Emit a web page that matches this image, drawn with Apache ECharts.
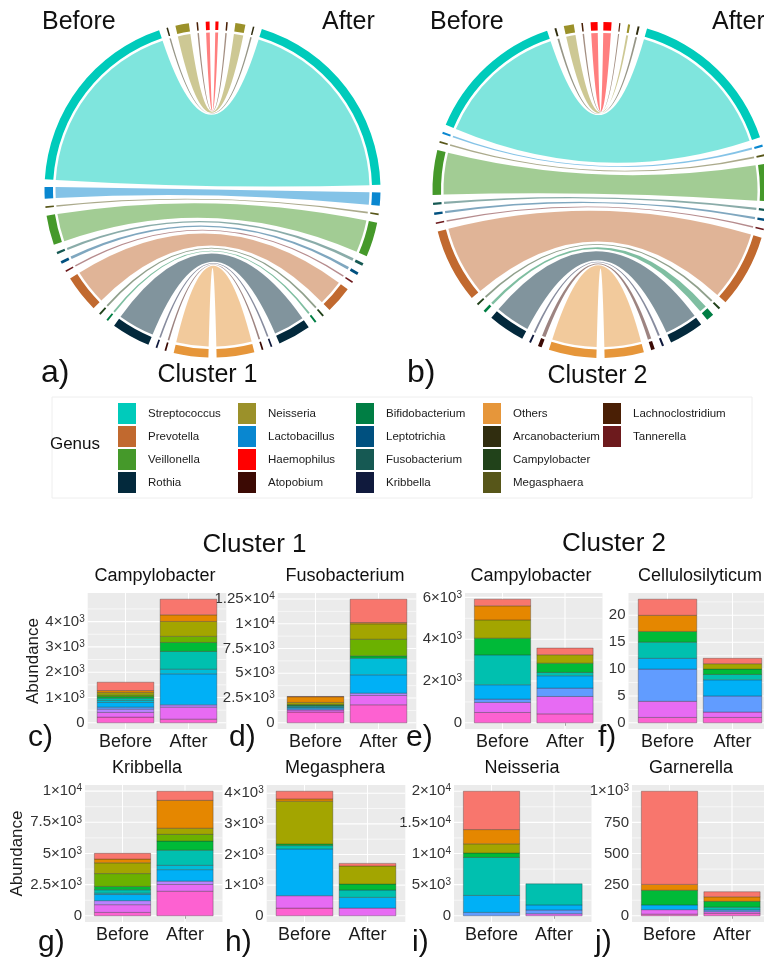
<!DOCTYPE html>
<html>
<head>
<meta charset="utf-8">
<script src="https://cdn.jsdelivr.net/npm/echarts@6/dist/echarts.min.js"></script>
<style>
  html, body { margin: 0; padding: 0; background: #ffffff; }
  #chart { width: 764px; height: 960px; }
</style>
</head>
<body>
<div id="chart"></div>
<script>
// ---------------------------------------------------------------------------
// Chord diagrams: genus order around the circle, clockwise from 12 o'clock on
// the "After" half (the "Before" half mirrors it counter-clockwise).
// ---------------------------------------------------------------------------
const genera = ['Haemophilus', 'Lachnoclostridium', 'Neisseria', 'Arcanobacterium', 'Streptococcus',
  'Lactobacillus', 'Megasphaera', 'Veillonella', 'Fusobacterium', 'Leptotrichia', 'Tannerella',
  'Prevotella', 'Campylobacter', 'Bifidobacterium', 'Rothia', 'Kribbella', 'Atopobium', 'Others'];

// Relative abundance (%) of each genus, same order as `genera`
const cluster1Before = [1.0, 0.4, 3.5, 0.4, 51.1, 3.0, 0.45, 7.7, 0.6, 0.75, 0.4, 9.7, 0.5, 0.5, 10.1, 0.45, 0.45, 9.0];
const cluster1After  = [0.8, 0.4, 2.6, 0.4, 53.6, 3.4, 0.45, 9.0, 0.75, 0.75, 0.4, 7.1, 0.5, 0.5, 8.6, 0.45, 0.45, 9.8];
const cluster2Before = [1.8, 0.4, 2.6, 0.5, 36.5, 0.5, 0.45, 11.6, 0.6, 0.6, 0.4, 19.3, 0.5, 0.7, 9.6, 0.5, 1.0, 12.4];
const cluster2After  = [2.1, 0.3, 0.55, 0.5, 41.8, 0.55, 0.5, 9.7, 0.6, 0.6, 0.4, 19.1, 0.55, 2.0, 9.0, 0.55, 0.95, 10.2];

// Legend entries, one list per legend column
const legendColumns = [
  ['Streptococcus', 'Prevotella', 'Veillonella', 'Rothia'],
  ['Neisseria', 'Lactobacillus', 'Haemophilus', 'Atopobium'],
  ['Bifidobacterium', 'Leptotrichia', 'Fusobacterium', 'Kribbella'],
  ['Others', 'Arcanobacterium', 'Campylobacter', 'Megasphaera'],
  ['Lachnoclostridium', 'Tannerella']
];

const genusColors = {
  Streptococcus: '#00CBBB', Prevotella: '#C1692F', Veillonella: '#45992A', Rothia: '#03293C',
  Neisseria: '#9B912A', Lactobacillus: '#0987D0', Haemophilus: '#FF0000', Atopobium: '#3C0A04',
  Bifidobacterium: '#007E44', Leptotrichia: '#00507F', Fusobacterium: '#165953', Kribbella: '#101A3D',
  Others: '#E6963A', Arcanobacterium: '#302D0F', Campylobacter: '#21421A', Megasphaera: '#575619',
  Lachnoclostridium: '#4A1F05', Tannerella: '#6D1A1D'
};

// ---------------------------------------------------------------------------
// Stacked bars: abundance per fill level (top of the stack first)
// ---------------------------------------------------------------------------
const sides = ['Before', 'After'];
const fillPalette = ['#F8766D', '#E58700', '#C99800', '#A3A500', '#6BB100', '#00BA38', '#00BF7D',
  '#00C0AF', '#00BCD8', '#00B0F6', '#619CFF', '#B983FF', '#E76BF3', '#FD61D1', '#FF67A4'];

const cBefore = [330, 80, 0, 90, 65, 65, 0, 90, 80, 185, 80, 130, 185, 225, 0];
const cAfter  = [620, 260, 0, 590, 240, 355, 0, 700, 185, 1225, 0, 90, 475, 145, 0];
const dBefore = [30, 570, 0, 200, 70, 70, 0, 100, 70, 130, 130, 0, 200, 1090, 0];
const dAfter  = [2360, 130, 0, 1550, 1680, 235, 0, 0, 1680, 1850, 0, 235, 940, 1820, 0];
const eBefore = [320, 670, 0, 875, 0, 800, 0, 1430, 0, 685, 160, 0, 480, 495, 0];
const eAfter  = [320, 0, 0, 400, 0, 445, 0, 160, 0, 590, 400, 0, 830, 430, 0];
const fBefore = [3, 3, 0, 0, 0, 2, 0, 3, 0, 2, 6, 0, 3, 1, 0];
const fAfter  = [1, 0, 0, 1, 0, 1, 0, 1, 0, 3, 3, 0, 1, 1, 0];
const gBefore = [460, 300, 0, 865, 1030, 270, 0, 270, 110, 490, 0, 325, 620, 270, 0];
const gAfter  = [730, 2240, 0, 490, 540, 730, 0, 1215, 350, 920, 0, 270, 540, 1970, 0];
const hBefore = [250, 75, 0, 1395, 0, 55, 0, 110, 0, 1525, 0, 0, 405, 250, 0];
const hAfter  = [85, 0, 0, 590, 0, 195, 0, 240, 0, 350, 0, 0, 250, 0, 0];
const iBefore = [6160, 2290, 0, 1470, 0, 710, 0, 6100, 0, 2725, 545, 0, 0, 0, 0];
const iAfter  = [0, 0, 0, 0, 0, 0, 0, 3380, 0, 820, 600, 0, 330, 0, 0];
const jBefore = [748, 47, 0, 0, 0, 118, 0, 0, 0, 38, 0, 0, 36, 13, 0];
const jAfter  = [41, 36, 0, 0, 0, 47, 0, 22, 0, 0, 14, 0, 14, 19, 0];

const cTicks = [0, 1000, 2000, 3000, 4000];
const dTicks = [0, 2500, 5000, 7500, 10000, 12500];
const eTicks = [0, 2000, 4000, 6000];
const fTicks = [0, 5, 10, 15, 20];
const gTicks = [0, 2500, 5000, 7500, 10000];
const hTicks = [0, 1000, 2000, 3000, 4000];
const iTicks = [0, 5000, 10000, 15000, 20000];
const jTicks = [0, 250, 500, 750, 1000];

const panelTags  = ['c)', 'd)', 'e)', 'f)', 'g)', 'h)', 'i)', 'j)'];
const panelGenus = ['Campylobacter', 'Fusobacterium', 'Campylobacter', 'Cellulosilyticum',
  'Kribbella', 'Megasphera', 'Neisseria', 'Garnerella'];
const panelBefore = [cBefore, dBefore, eBefore, fBefore, gBefore, hBefore, iBefore, jBefore];
const panelAfter  = [cAfter, dAfter, eAfter, fAfter, gAfter, hAfter, iAfter, jAfter];
const panelTicks  = [cTicks, dTicks, eTicks, fTicks, gTicks, hTicks, iTicks, jTicks];

// ---------------------------------------------------------------------------
// Layout and styling
// ---------------------------------------------------------------------------
const SANS = '"Liberation Sans", Arial, Helvetica, sans-serif';
const INK = '#111111';

const R_OUT = 168, R_IN = 159.5, R_RIB = 157;
const TOP_GAP = 2.0, BOTTOM_GAP = 2.8, SEG_SPAN = 133;

// [left, top, width, height] of each bar panel
const panelBoxes = [
  [87.7, 593, 138.6, 136], [277.7, 593, 138.6, 136], [465, 593, 137.5, 136], [628.5, 593, 143, 136],
  [85, 785, 137.5, 137], [266.7, 785, 138.6, 137], [454, 785, 137.5, 137], [632, 785, 137.5, 137]
];
const titleCenters = [155, 345, 531, 700, 147, 335, 522, 691];
const tagPositions = [[28, 738], [229, 738], [406, 738], [598, 738], [38, 943], [225, 943], [412, 943], [595, 943]];
const legendColumnLeft = [118, 238, 356, 483, 603];

const X_MIN = 0.4, X_MAX = 2.6, BAR_HALF = 0.45;

const sum = a => a.reduce((s, v) => s + v, 0);

function rgba(hex, a) {
  const n = parseInt(hex.slice(1), 16);
  return 'rgba(' + (n >> 16 & 255) + ',' + (n >> 8 & 255) + ',' + (n & 255) + ',' + a + ')';
}

// Angular extent of every genus on both halves (degrees from 12 o'clock)
function chordLayout(before, after) {
  const gap = (180 - TOP_GAP / 2 - BOTTOM_GAP / 2 - SEG_SPAN) / (genera.length - 1);
  const half = vals => {
    const tot = sum(vals);
    let a = TOP_GAP / 2;
    return vals.map(v => {
      const w = v / tot * SEG_SPAN;
      const seg = [a, a + w];
      a += w + gap;
      return seg;
    });
  };
  return { before: half(before), after: half(after) };
}

const chordDefs = [
  { cx: 212.5, cy: 189.5, layout: chordLayout(cluster1Before, cluster1After) },
  { cx: 600.5, cy: 190, layout: chordLayout(cluster2Before, cluster2After) }
];

const rad = d => d * Math.PI / 180;

const genusSeries = genera.map((g, gi) => ({
  type: 'custom',
  name: g,
  coordinateSystem: 'none',
  silent: true,
  itemStyle: { color: genusColors[g] },
  data: [[0], [1]],
  renderItem: (params, api) => {
    const d = chordDefs[api.value(0)];
    const cx = d.cx, cy = d.cy;
    const [bs, be] = d.layout.before[gi];
    const [as, ae] = d.layout.after[gi];
    const pt = (deg, r) => [cx + r * Math.sin(rad(deg)), cy - r * Math.cos(rad(deg))];
    const b0 = pt(-bs, R_RIB), b1 = pt(-be, R_RIB);
    const a0 = pt(as, R_RIB), a1 = pt(ae, R_RIB);
    const f = p => p[0].toFixed(2) + ' ' + p[1].toFixed(2);
    const ribbon = 'M' + f(b0) +
      ' A' + R_RIB + ' ' + R_RIB + ' 0 0 0 ' + f(b1) +
      ' Q' + cx + ' ' + cy + ' ' + f(a1) +
      ' A' + R_RIB + ' ' + R_RIB + ' 0 0 0 ' + f(a0) +
      ' Q' + cx + ' ' + cy + ' ' + f(b0) + ' Z';
    const col = genusColors[g];
    const phi = deg => rad(deg - 90);
    return {
      type: 'group',
      children: [
        { type: 'path', shape: { pathData: ribbon }, style: { fill: rgba(col, 0.5), stroke: null } },
        { type: 'sector', shape: { cx, cy, r0: R_IN, r: R_OUT, startAngle: phi(-be), endAngle: phi(-bs), clockwise: true },
          style: { fill: col } },
        { type: 'sector', shape: { cx, cy, r0: R_IN, r: R_OUT, startAngle: phi(as), endAngle: phi(ae), clockwise: true },
          style: { fill: col } }
      ]
    };
  }
}));

// Tick labels such as 1.25×10⁴
function sciLabel(v) {
  if (v === 0) return '{m|0}';
  if (v < 1000) return '{m|' + v + '}';
  const e = Math.floor(Math.log10(v) + 1e-9);
  const m = +(v / Math.pow(10, e)).toFixed(2);
  return '{m|' + m + '×10}{e|' + e + '}';
}

const grids = [], xAxes = [], yAxes = [], panelSeries = [];

panelGenus.forEach((name, i) => {
  const box = panelBoxes[i];
  const before = panelBefore[i], after = panelAfter[i], ticks = panelTicks[i];
  const top = Math.max(sum(before), sum(after));
  const yMin = -0.05 * top, yMax = 1.05 * top;

  grids.push({
    left: box[0], top: box[1], width: box[2], height: box[3],
    show: true, backgroundColor: '#EBEBEB', borderWidth: 0,
    containLabel: false, outerBoundsMode: 'none'
  });

  xAxes.push({
    type: 'value', gridIndex: i, min: X_MIN, max: X_MAX,
    axisLine: { show: false }, splitLine: { show: false },
    axisTick: { show: true, customValues: [1, 2], length: 3, lineStyle: { color: '#333', width: 1 } },
    axisLabel: {
      customValues: [1, 2], margin: 4, formatter: v => sides[Math.round(v) - 1],
      fontSize: 18, fontFamily: SANS, color: '#1a1a1a'
    }
  });

  yAxes.push({
    type: 'value', gridIndex: i, min: yMin, max: yMax,
    axisLine: { show: false }, splitLine: { show: false }, axisTick: { show: false },
    axisLabel: {
      customValues: ticks, margin: 3, formatter: sciLabel,
      rich: {
        m: { fontSize: 15, fontFamily: SANS, color: '#333' },
        e: { fontSize: 10, fontFamily: SANS, color: '#333', verticalAlign: 'top' }
      }
    },
    name: (i === 0 || i === 4) ? 'Abundance' : '',
    nameLocation: 'middle', nameRotate: 90, nameGap: 44,
    nameTextStyle: { fontSize: 17, fontFamily: SANS, color: '#1a1a1a' }
  });

  // White panel grid: majors at ticks, minors halfway, verticals at the bars
  const step = ticks[1] - ticks[0];
  const lines = ticks.map(t => [0, t]);
  const minors = ticks.map(t => t + step / 2).concat([ticks[0] - step / 2]).filter(t => t > yMin && t < yMax);
  minors.forEach(t => lines.push([1, t]));
  lines.push([2, 1], [2, 2]);
  panelSeries.push({
    type: 'custom', xAxisIndex: i, yAxisIndex: i, silent: true, z: 1,
    data: lines,
    renderItem: (params, api) => {
      const kind = api.value(0), v = api.value(1);
      const p0 = kind === 2 ? api.coord([v, yMin]) : api.coord([X_MIN, v]);
      const p1 = kind === 2 ? api.coord([v, yMax]) : api.coord([X_MAX, v]);
      return {
        type: 'line', shape: { x1: p0[0], y1: p0[1], x2: p1[0], y2: p1[1] },
        style: { stroke: '#ffffff', lineWidth: kind === 1 ? 0.6 : 1.1 }
      };
    }
  });

  // Stacked segments: the last fill level sits at the bottom
  const rows = [];
  [before, after].forEach((vals, s) => {
    let base = 0;
    for (let k = vals.length - 1; k >= 0; k--) {
      if (vals[k] > 0) rows.push([s + 1, base, base + vals[k], k]);
      base += vals[k];
    }
  });
  panelSeries.push({
    type: 'custom', xAxisIndex: i, yAxisIndex: i, silent: true, z: 2,
    encode: { x: 0, y: [1, 2] },
    data: rows,
    renderItem: (params, api) => {
      const x = api.value(0), y0 = api.value(1), y1 = api.value(2), k = api.value(3);
      const p0 = api.coord([x - BAR_HALF, y1]);
      const p1 = api.coord([x + BAR_HALF, y0]);
      return {
        type: 'rect',
        shape: { x: p0[0], y: p0[1], width: p1[0] - p0[0], height: p1[1] - p0[1] },
        style: { fill: fillPalette[k], stroke: 'rgba(45,45,45,0.55)', lineWidth: 0.6 }
      };
    }
  });
});

// Static text
function label(text, x, y, size, align) {
  return {
    type: 'text', x, y, silent: true, z: 10,
    style: { text, fontSize: size, fontFamily: SANS, fill: INK, align: align || 'left', verticalAlign: 'middle' }
  };
}

const texts = [
  label('Before', 42, 22, 25), label('After', 322, 22, 25),
  label('Before', 430, 22, 25), label('After', 712, 22, 25),
  label('a)', 41, 373, 32), label('Cluster 1', 207.5, 375, 25, 'center'),
  label('b)', 407, 373, 32), label('Cluster 2', 597.5, 376, 25, 'center'),
  label('Genus', 100, 444, 17, 'right'),
  label('Cluster 1', 254.5, 545, 26, 'center'), label('Cluster 2', 614, 543.5, 26, 'center')
];
panelGenus.forEach((name, i) => {
  texts.push(label(name, titleCenters[i], i < 4 ? 576.5 : 768.5, 18, 'center'));
  texts.push(label(panelTags[i], tagPositions[i][0], tagPositions[i][1], 30));
});
texts.push({
  type: 'rect', silent: true, z: 0,
  shape: { x: 52, y: 397, width: 700, height: 101 },
  style: { fill: 'none', stroke: '#eeeeee', lineWidth: 1 }
});

// One legend block per column
const legends = legendColumns.map((names, c) => ({
  data: names,
  orient: 'vertical',
  left: legendColumnLeft[c], top: 403,
  padding: 0, itemGap: 2, itemWidth: 18, itemHeight: 21,
  icon: 'rect', selectedMode: false,
  textStyle: { fontSize: 11.5, fontFamily: SANS, color: '#1a1a1a', padding: [0, 0, 0, 7] }
}));

const chart = echarts.init(document.getElementById('chart'), null, { renderer: 'canvas', width: 764, height: 960 });
chart.setOption({
  animation: false,
  backgroundColor: '#ffffff',
  legend: legends,
  grid: grids,
  xAxis: xAxes,
  yAxis: yAxes,
  graphic: texts,
  series: genusSeries.concat(panelSeries)
});
</script>
</body>
</html>
